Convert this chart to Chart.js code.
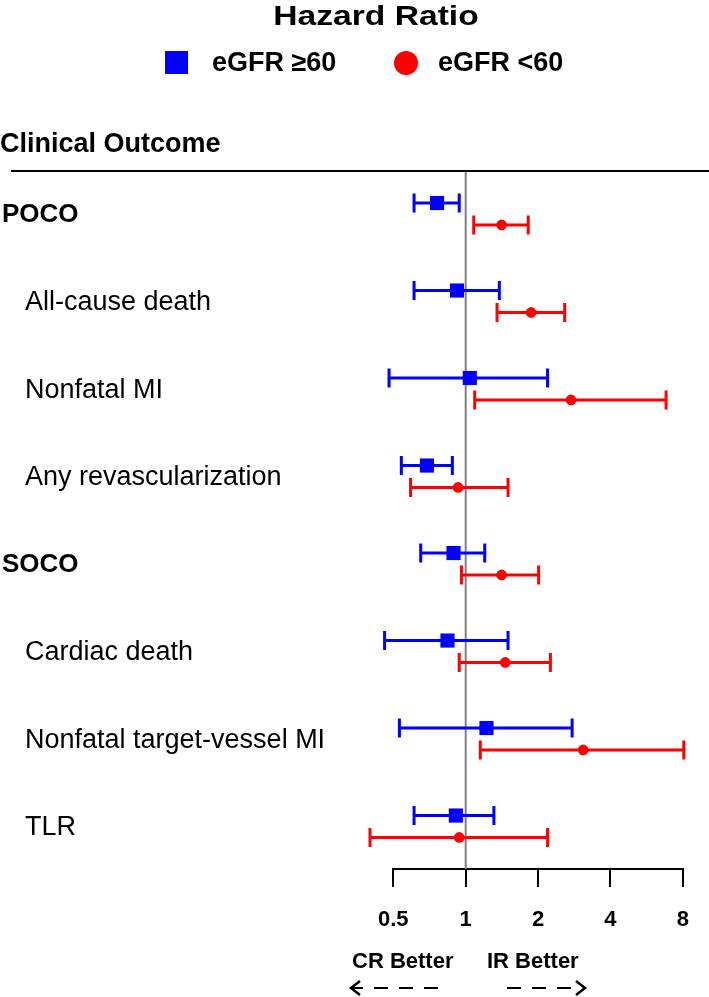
<!DOCTYPE html>
<html>
<head>
<meta charset="utf-8">
<script src="https://cdn.jsdelivr.net/npm/chart.js@4/dist/chart.umd.min.js"></script>
<style>
  html, body { margin: 0; padding: 0; background: #fff; }
  #wrap { width: 709px; height: 997px; position: relative; }
</style>
</head>
<body>
<div id="wrap"><canvas id="forest"></canvas></div>
<script>
const outcomes = [
  "POCO",
  "All-cause death",
  "Nonfatal MI",
  "Any revascularization",
  "SOCO",
  "Cardiac death",
  "Nonfatal target-vessel MI",
  "TLR",
];
const isHeader = [true, false, false, false, true, false, false, false];

// eGFR >=60
const hrHigh = [0.76, 0.92, 1.04, 0.69, 0.89, 0.84, 1.22, 0.91];
const loHigh = [0.61, 0.61, 0.48, 0.54, 0.65, 0.46, 0.53, 0.61];
const upHigh = [0.94, 1.38, 2.19, 0.88, 1.20, 1.50, 2.77, 1.31];

// eGFR <60
const hrLow = [1.41, 1.87, 2.74, 0.93, 1.41, 1.46, 3.08, 0.94];
const loLow = [1.08, 1.35, 1.09, 0.59, 0.96, 0.94, 1.15, 0.40];
const upLow = [1.82, 2.58, 6.81, 1.50, 2.01, 2.25, 8.07, 2.19];

const xTicks = [0.5, 1, 2, 4, 8];

const FONT = '"Liberation Sans", Arial, Helvetica, sans-serif';
Chart.defaults.font.family = FONT;

const rows = (hr, lo, hi, shift) =>
  hr.map((v, i) => ({ x: v, y: i + shift, lo: lo[i], hi: hi[i] }));

const forestPlugin = {
  id: "forest",
  beforeDatasetsDraw(chart) {
    const { ctx, chartArea } = chart;
    const x = chart.scales.x;
    const y = chart.scales.y;
    ctx.save();

    // line of no effect
    const x1 = x.getPixelForValue(1);
    ctx.strokeStyle = "#808080";
    ctx.lineWidth = 2;
    ctx.beginPath();
    ctx.moveTo(x1, chartArea.top);
    ctx.lineTo(x1, chartArea.bottom);
    ctx.stroke();

    // confidence intervals
    const cap = 9.5;
    chart.data.datasets.forEach((ds) => {
      ctx.strokeStyle = ds.borderColor;
      ctx.lineWidth = 3;
      ds.data.forEach((p) => {
        const yp = y.getPixelForValue(p.y);
        const a = x.getPixelForValue(p.lo);
        const b = x.getPixelForValue(p.hi);
        ctx.beginPath();
        ctx.moveTo(a, yp);
        ctx.lineTo(b, yp);
        ctx.moveTo(a, yp - cap);
        ctx.lineTo(a, yp + cap);
        ctx.moveTo(b, yp - cap);
        ctx.lineTo(b, yp + cap);
        ctx.stroke();
      });
    });
    ctx.restore();
  },
  afterDraw(chart) {
    const { ctx, chartArea } = chart;
    const y = chart.scales.y;
    ctx.save();
    ctx.fillStyle = "#000";

    // title, stretched a little like the original
    ctx.font = "bold 28px " + FONT;
    ctx.textAlign = "center";
    ctx.textBaseline = "alphabetic";
    ctx.save();
    ctx.translate(376, 25);
    ctx.scale(1.2, 1);
    ctx.fillText("Hazard Ratio", 0, 0);
    ctx.restore();

    // legend
    const [dsHigh, dsLow] = chart.data.datasets;
    ctx.fillStyle = dsHigh.backgroundColor;
    ctx.fillRect(165, 51, 23, 23);
    ctx.fillStyle = dsLow.backgroundColor;
    ctx.beginPath();
    ctx.arc(406, 63, 12, 0, Math.PI * 2);
    ctx.fill();
    ctx.fillStyle = "#000";
    ctx.font = "bold 27px " + FONT;
    ctx.textAlign = "left";
    ctx.textBaseline = "middle";
    ctx.fillText(dsHigh.label, 212, 64);
    ctx.fillText(dsLow.label, 438, 64);

    // column header + rule
    ctx.textBaseline = "alphabetic";
    ctx.fillText("Clinical Outcome", 0, 152);
    ctx.strokeStyle = "#000";
    ctx.lineWidth = 2;
    ctx.beginPath();
    ctx.moveTo(11, chartArea.top);
    ctx.lineTo(709, chartArea.top);
    ctx.stroke();

    // row labels
    ctx.textBaseline = "middle";
    outcomes.forEach((name, i) => {
      ctx.font = (isHeader[i] ? "bold 26px " : "27px ") + FONT;
      ctx.fillText(name, isHeader[i] ? 2 : 25, y.getPixelForValue(i + 0.14));
    });

    // direction notes
    ctx.font = "bold 22px " + FONT;
    ctx.textBaseline = "alphabetic";
    ctx.fillText("CR Better", 352, 968);
    ctx.fillText("IR Better", 487, 968);

    ctx.lineWidth = 2;
    ctx.setLineDash([14, 11]);
    ctx.beginPath();
    ctx.moveTo(438, 988);
    ctx.lineTo(353, 988);
    ctx.moveTo(507, 988);
    ctx.lineTo(582, 988);
    ctx.stroke();
    ctx.setLineDash([]);
    ctx.lineWidth = 2.5;
    ctx.beginPath();
    ctx.moveTo(360, 981);
    ctx.lineTo(351, 988);
    ctx.lineTo(360, 995);
    ctx.moveTo(576, 981);
    ctx.lineTo(585, 988);
    ctx.lineTo(576, 995);
    ctx.stroke();

    ctx.restore();
  },
};

new Chart(document.getElementById("forest"), {
  type: "scatter",
  data: {
    datasets: [
      {
        label: "eGFR \u226560",
        data: rows(hrHigh, loHigh, upHigh, 0),
        backgroundColor: "#0000ff",
        borderColor: "#0000ff",
        pointStyle: "rect",
        pointRadius: 10,
        pointBorderWidth: 0,
        clip: false,
      },
      {
        label: "eGFR <60",
        data: rows(hrLow, loLow, upLow, 0.25),
        backgroundColor: "#ff0000",
        borderColor: "#ff0000",
        pointStyle: "circle",
        pointRadius: 5.3,
        pointBorderWidth: 0,
        clip: false,
      },
    ],
  },
  options: {
    responsive: true,
    maintainAspectRatio: false,
    animation: false,
    layout: {
      padding: { top: 171, left: 393.3, right: 21.3, bottom: 43.6 },
    },
    plugins: {
      legend: { display: false },
      tooltip: { enabled: false },
    },
    scales: {
      x: {
        type: "logarithmic",
        min: 0.5,
        max: 8,
        afterBuildTicks: (scale) => {
          scale.ticks = xTicks.map((v) => ({ value: v }));
        },
        border: { display: true, color: "#000", width: 2 },
        grid: {
          drawOnChartArea: false,
          drawTicks: true,
          tickLength: 18,
          color: "#000",
          lineWidth: 2,
        },
        ticks: {
          color: "#000",
          padding: 20,
          maxRotation: 0,
          autoSkip: false,
          font: { size: 22, weight: "bold" },
          callback: (value) => String(value),
        },
      },
      y: {
        type: "linear",
        display: false,
        reverse: true,
        min: -0.366,
        max: 7.611,
      },
    },
  },
  plugins: [forestPlugin],
});
</script>
</body>
</html>
